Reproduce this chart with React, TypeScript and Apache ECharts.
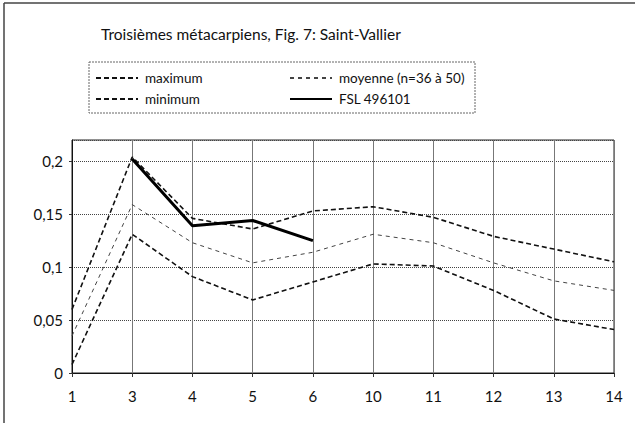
import React, { useEffect, useRef } from "react";
import * as echarts from "echarts";

const categories = ["1", "3", "4", "5", "6", "10", "11", "12", "13", "14"];
const maximum = [0.06, 0.204, 0.146, 0.136, 0.153, 0.157, 0.147, 0.129, 0.117, 0.105];
const moyenne = [0.035, 0.159, 0.123, 0.104, 0.114, 0.131, 0.123, 0.104, 0.087, 0.078];
const minimum = [0.008, 0.131, 0.091, 0.069, 0.086, 0.103, 0.101, 0.078, 0.051, 0.041];
const fsl = [null, 0.202, 0.139, 0.144, 0.125, null, null, null, null, null];
const seriesNames = ["maximum", "moyenne (n=36 à 50)", "minimum", "FSL 496101"];

const FONT = "Lato, 'Open Sans', sans-serif";

export default function App() {
  const ref = useRef<HTMLDivElement>(null);
  useEffect(() => {
    if (!ref.current) return;
    const chart = echarts.init(ref.current, null, { renderer: "svg" });
    const legendBase = {
      orient: "vertical",
      top: 66,
      itemWidth: 42,
      itemHeight: 10,
      itemGap: 7,
      itemStyle: { opacity: 0 },
      textStyle: { fontFamily: FONT, fontSize: 13.5, color: "#111", padding: [0, 0, 0, 2] },
    };
    chart.setOption({
      animation: false,
      backgroundColor: "#fff",
      textStyle: { fontFamily: FONT, color: "#111" },
      title: {
        text: "Troisièmes métacarpiens, Fig. 7: Saint-Vallier",
        left: 96,
        top: 21,
        textStyle: { fontFamily: FONT, fontSize: 15.5, fontWeight: "normal", color: "#111" },
      },
      legend: [
        { ...legendBase, data: [seriesNames[0], seriesNames[2]], left: 90 },
        { ...legendBase, data: [seriesNames[1], seriesNames[3]], left: 284 },
      ],
      graphic: [
        {
          type: "rect",
          shape: { x: 89, y: 62, width: 386, height: 51 },
          style: { fill: "none", stroke: "#666", lineWidth: 1, lineDash: [2, 1] },
        },
        {
          type: "line",
          shape: { x1: 4, y1: 3, x2: 4, y2: 423 },
          style: { stroke: "#444", lineWidth: 1.5 },
        },
        {
          type: "line",
          shape: { x1: 4, y1: 3, x2: 635, y2: 3 },
          style: { stroke: "#444", lineWidth: 1.5 },
        },
      ],
      grid: {
        left: 72,
        right: 21,
        top: 140,
        bottom: 50,
        show: true,
        borderColor: "#222",
        borderWidth: 1,
      },
      xAxis: {
        type: "category",
        data: categories,
        boundaryGap: false,
        axisLine: { lineStyle: { color: "#111", width: 1 } },
        axisTick: { show: true, length: 4, lineStyle: { color: "#333" } },
        axisLabel: { fontFamily: FONT, fontSize: 15, color: "#111", margin: 15 },
        splitLine: { show: true, lineStyle: { color: "#777", width: 1, type: "solid" } },
      },
      yAxis: {
        type: "value",
        min: 0,
        max: 0.22,
        interval: 0.05,
        axisLine: { show: true, lineStyle: { color: "#111", width: 1 } },
        axisTick: { show: true, length: 3, lineStyle: { color: "#333" } },
        axisLabel: {
          fontFamily: FONT,
          fontSize: 15,
          color: "#111",
          margin: 9,
          showMaxLabel: false,
          formatter: (v: number) => String(Math.round(v * 100) / 100).replace(".", ","),
        },
        splitLine: { show: true, lineStyle: { color: "#444", width: 1, type: [1, 1] } },
      },
      series: [
        {
          name: seriesNames[0],
          type: "line",
          data: maximum,
          symbol: "none",
          lineStyle: { color: "#111", width: 1.6, type: [5, 3] },
          itemStyle: { color: "#111" },
        },
        {
          name: seriesNames[1],
          type: "line",
          data: moyenne,
          symbol: "none",
          lineStyle: { color: "#444", width: 1, type: [4, 4] },
          itemStyle: { color: "#444" },
        },
        {
          name: seriesNames[2],
          type: "line",
          data: minimum,
          symbol: "none",
          lineStyle: { color: "#111", width: 1.6, type: [5, 3] },
          itemStyle: { color: "#111" },
        },
        {
          name: seriesNames[3],
          type: "line",
          data: fsl,
          symbol: "none",
          connectNulls: false,
          lineStyle: { color: "#000", width: 3, type: "solid" },
          itemStyle: { color: "#000" },
        },
      ],
    });
    return () => chart.dispose();
  }, []);
  return (
    <div
      ref={ref}
      style={{ position: "fixed", left: 0, top: 0, width: 635, height: 423 }}
    />
  );
}
